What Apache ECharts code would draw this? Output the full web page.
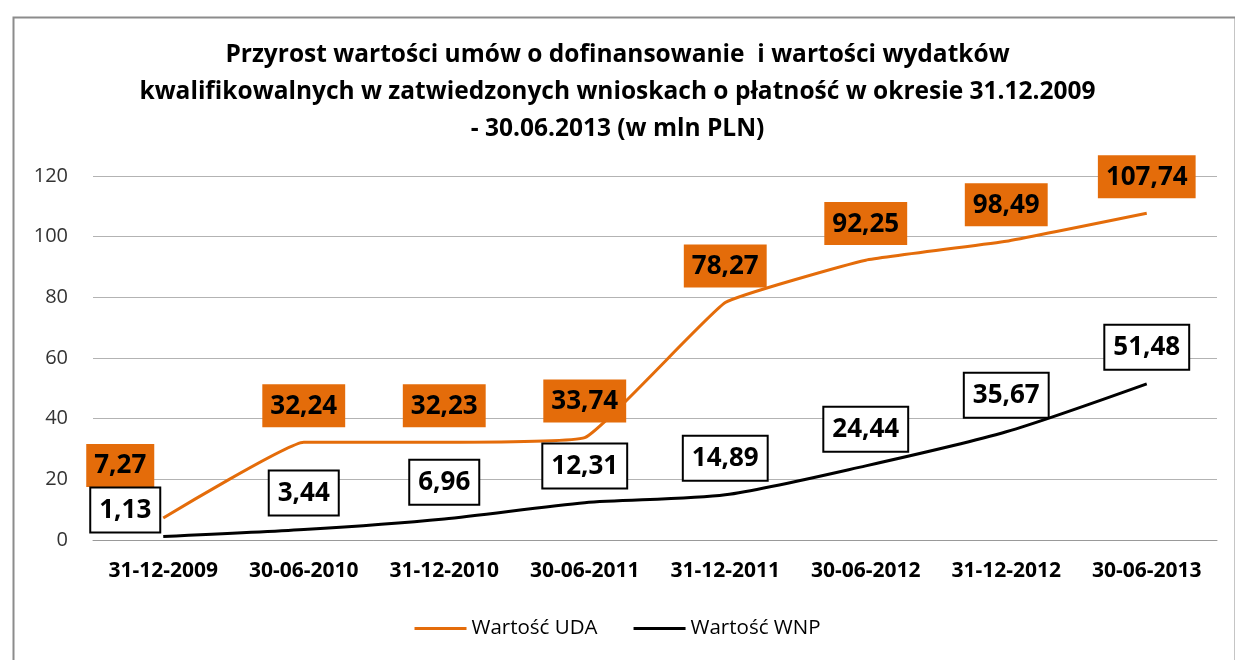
<!DOCTYPE html>
<html><head><meta charset="utf-8">
<script src="https://cdn.jsdelivr.net/npm/echarts@6/dist/echarts.min.js"></script>
<style>html,body{margin:0;padding:0;background:#fff}#c{width:1235px;height:660px}</style>
</head><body><div id="c"></div>
<script>
const categories = ['31-12-2009','30-06-2010','31-12-2010','30-06-2011','31-12-2011','30-06-2012','31-12-2012','30-06-2013'];
const udaValues = [7.27, 32.24, 32.23, 33.74, 78.27, 92.25, 98.49, 107.74];
const wnpValues = [1.13, 3.44, 6.96, 12.31, 14.89, 24.44, 35.67, 51.48];
const seriesNames = ['Wartość UDA', 'Wartość WNP'];
const titleText = 'Przyrost wartości umów o dofinansowanie  i wartości wydatków\nkwalifikowalnych w zatwiedzonych wnioskach o płatność w okresie 31.12.2009\n- 30.06.2013 (w mln PLN)';

const FONT = 'Open Sans';
const fmt = p => p.value.toFixed(2).replace('.', ',');
const firstOffsets = { uda: [-43, -16], wnp: [-38, 10] };
function build(vals, key) {
  return vals.map((v, i) => i === 0 ? { value: v, label: { offset: firstOffsets[key] } } : v);
}
const labelBase = { show: true, position: 'top', distance: 15, formatter: fmt, fontFamily: FONT, fontWeight: 'bold', fontSize: 26, lineHeight: 30, color: '#000', padding: [7, 8, 6, 8] };
const chart = echarts.init(document.getElementById('c'), null, { renderer: 'canvas' });
chart.setOption({
  animation: false,
  backgroundColor: '#fff',
  graphic: [{ type: 'rect', left: 11, top: 15, shape: { width: 1222, height: 700 }, style: { fill: 'none', stroke: '#8c8c8c', lineWidth: 2 } }],
  title: { text: titleText, left: 'center', top: 32, textStyle: { fontFamily: FONT, fontWeight: 'bold', fontSize: 24.5, lineHeight: 37, color: '#000' } },
  grid: { left: 93, right: 18, top: 176, bottom: 120, containLabel: false },
  xAxis: {
    type: 'category', data: categories, boundaryGap: true,
    axisLine: { show: true, lineStyle: { color: '#999', width: 1 } },
    axisTick: { show: false },
    axisLabel: { interval: 0, hideOverlap: false, fontFamily: FONT, fontWeight: 'bold', fontSize: 21, color: '#000', margin: 21 }
  },
  yAxis: {
    type: 'value', min: 0, max: 120, interval: 20,
    axisLine: { show: false }, axisTick: { show: false },
    splitLine: { lineStyle: { color: '#b3b3b3', width: 1 } },
    axisLabel: { fontFamily: FONT, fontSize: 20, color: '#333', margin: 25 }
  },
  legend: {
    bottom: 16, left: 'center', icon: 'rect', itemWidth: 52, itemHeight: 3, itemGap: 36,
    textStyle: { fontFamily: FONT, fontSize: 20.5, color: '#000' },
    data: seriesNames
  },
  series: [
    {
      name: seriesNames[0], type: 'line', data: build(udaValues, 'uda'), smooth: 0.1,
      symbol: 'circle', symbolSize: 0.1, showSymbol: true,
      lineStyle: { color: '#E46C0A', width: 3 }, itemStyle: { color: '#E46C0A' },
      label: Object.assign({}, labelBase, { backgroundColor: '#E46C0A' })
    },
    {
      name: seriesNames[1], type: 'line', data: build(wnpValues, 'wnp'), smooth: 0.25,
      symbol: 'circle', symbolSize: 0.1, showSymbol: true,
      lineStyle: { color: '#000', width: 3 }, itemStyle: { color: '#000' },
      label: Object.assign({}, labelBase, { backgroundColor: '#fff', borderColor: '#000', borderWidth: 2 })
    }
  ]
});
</script></body></html>
